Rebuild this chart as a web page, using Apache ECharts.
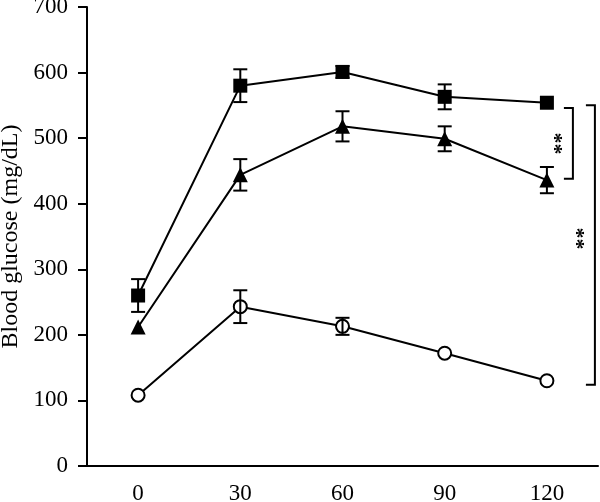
<!DOCTYPE html>
<html>
<head>
<meta charset="utf-8">
<script src="https://cdn.jsdelivr.net/npm/echarts@6/dist/echarts.min.js"></script>
<style>
  html, body { margin: 0; padding: 0; background: #fff; }
  #chartMain { width: 600px; height: 502px; }
</style>
</head>
<body>
<div id="chartMain"></div>
<script>
  // time points (min)
  var times = ['0', '30', '60', '90', '120'];

  // blood glucose means and error (mg/dL)
  var squareMean = [260, 580, 601, 563, 554];
  var squareErr = [25, 25, 9, 19, 0];
  var triangleMean = [212, 444, 518, 499, 436];
  var triangleErr = [0, 24, 23, 19, 20];
  var circleMean = [108, 243, 213, 172, 130];
  var circleErr = [0, 25, 13, 0, 0];

  // significance brackets at 120 min: top, bottom, star level
  var bracketTop = [546, 550];
  var bracketBottom = [438, 124];
  var bracketStar = [492, 347];
  var bracketText = ['**', '**'];

  var font = 'Liberation Serif';

  function errData(mean, err) {
    var out = [];
    for (var i = 0; i < mean.length; i++) {
      if (err[i] > 0) out.push([i, mean[i], err[i]]);
    }
    return out;
  }

  function renderErr(params, api) {
    var x = api.value(0), y = api.value(1), e = api.value(2);
    var hi = api.coord([x, y + e]);
    var lo = api.coord([x, y - e]);
    var hw = 7;
    var st = { stroke: '#000', lineWidth: 2 };
    return {
      type: 'group',
      children: [
        { type: 'line', shape: { x1: hi[0], y1: hi[1], x2: lo[0], y2: lo[1] }, style: st },
        { type: 'line', shape: { x1: hi[0] - hw, y1: hi[1], x2: hi[0] + hw, y2: hi[1] }, style: st },
        { type: 'line', shape: { x1: lo[0] - hw, y1: lo[1], x2: lo[0] + hw, y2: lo[1] }, style: st }
      ]
    };
  }

  function lineSeries(name, data, symbol, size, fill) {
    return {
      name: name,
      type: 'line',
      data: data,
      symbol: symbol,
      symbolSize: size,
      showSymbol: true,
      animation: false,
      lineStyle: { color: '#000', width: 2 },
      itemStyle: { color: fill, borderColor: '#000', borderWidth: fill === '#fff' ? 2 : 0 },
      z: 2
    };
  }

  function errSeries(name, mean, err) {
    return {
      name: name,
      type: 'custom',
      renderItem: renderErr,
      data: errData(mean, err),
      animation: false,
      z: 3
    };
  }

  var myChart = echarts.init(document.getElementById('chartMain'));
  myChart.setOption({
    animation: false,
    backgroundColor: '#fff',
    grid: { left: 87, right: 2, top: 7, bottom: 36, containLabel: false, outerBoundsMode: 'none' },
    xAxis: {
      type: 'category',
      data: times,
      boundaryGap: true,
      axisLine: { lineStyle: { color: '#000', width: 2 } },
      axisTick: { alignWithLabel: true, length: 9, lineStyle: { color: '#000', width: 2 } },
      axisLabel: { color: '#000', fontFamily: font, fontSize: 23, margin: 16 },
      splitLine: { show: false }
    },
    yAxis: {
      type: 'value',
      min: 0,
      max: 700,
      interval: 100,
      name: 'Blood glucose (mg/dL)',
      nameLocation: 'middle',
      nameGap: 55,
      nameTextStyle: { color: '#000', fontFamily: font, fontSize: 24 },
      axisLine: { show: true, lineStyle: { color: '#000', width: 2 } },
      axisTick: { show: true, length: 9, lineStyle: { color: '#000', width: 2 } },
      axisLabel: { color: '#000', fontFamily: font, fontSize: 23, margin: 19 },
      splitLine: { show: false }
    },
    series: [
      lineSeries('Square', squareMean, 'rect', 14, '#000'),
      lineSeries('Triangle', triangleMean, 'triangle', 15, '#000'),
      lineSeries('Circle', circleMean, 'circle', 13, '#fff'),
      errSeries('Square SD', squareMean, squareErr),
      errSeries('Triangle SD', triangleMean, triangleErr),
      errSeries('Circle SD', circleMean, circleErr)
    ]
  });

  // significance brackets to the right of the last time point
  var xLast = myChart.convertToPixel({ xAxisIndex: 0 }, times.length - 1);
  var bracketX = [xLast + 26, xLast + 48];
  var graphics = [];
  for (var i = 0; i < bracketTop.length; i++) {
    var bx = bracketX[i];
    var yt = myChart.convertToPixel({ yAxisIndex: 0 }, bracketTop[i]);
    var yb = myChart.convertToPixel({ yAxisIndex: 0 }, bracketBottom[i]);
    var ys = myChart.convertToPixel({ yAxisIndex: 0 }, bracketStar[i]);
    graphics.push({
      type: 'polyline',
      shape: { points: [[bx - 9, yt], [bx, yt], [bx, yb], [bx - 9, yb]] },
      style: { stroke: '#000', lineWidth: 2, fill: null }
    });
    graphics.push({
      type: 'text',
      x: bx - 11,
      y: ys,
      rotation: Math.PI / 2,
      style: {
        text: bracketText[i],
        font: 'bold 22px "' + font + '"',
        fill: '#000',
        align: 'center',
        verticalAlign: 'middle'
      }
    });
  }
  myChart.setOption({ graphic: graphics });
</script>
</body>
</html>
